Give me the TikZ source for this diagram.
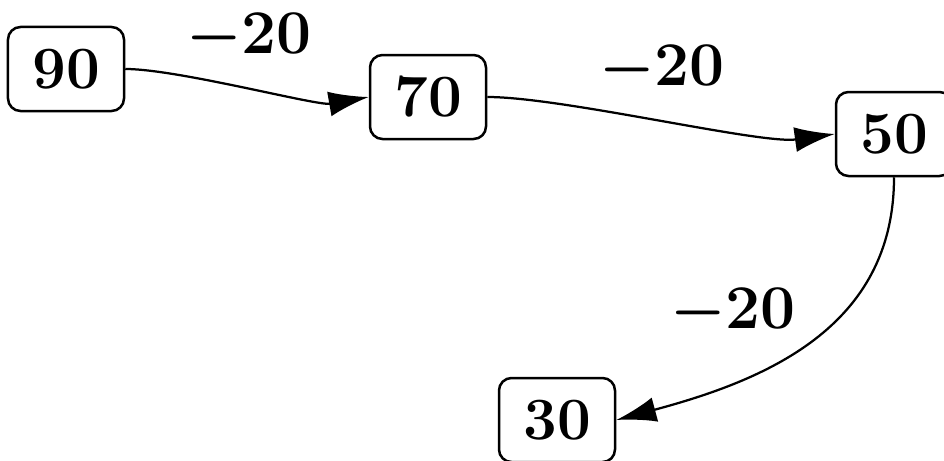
\documentclass[tikz,border=0pt]{standalone}
\usetikzlibrary{arrows.meta}
\begin{document}
\begin{tikzpicture}[x=0.4pt,y=-0.4pt,
  box/.style={draw, line width=1pt, rounded corners=5pt, minimum width=46.4pt, minimum height=33.6pt, inner sep=0pt, font=\fontsize{24}{28}\selectfont\bfseries},
  edge/.style={line width=0.9pt, -{Latex[length=16pt,width=10pt]}},
  lab/.style={font=\fontsize{24}{28}\selectfont\boldmath, inner sep=0pt}]
\useasboundingbox (0,0) rectangle (944,460);
\node[box] (n90) at (66,69) {90};
\node[box] (n70) at (428,97) {70};
\node[box] (n50) at (894,134) {50};
\node[box] (n30) at (557,420) {30};
\draw[edge] (n90.east) to[out=0,in=190,looseness=0.55] (n70.west);
\draw[edge] (n70.east) to[out=0,in=188,looseness=0.55] (n50.west);
\draw[edge] (n50.south) to[out=-90,in=15,looseness=1.05] (n30.east);
\node[lab] (l1) at (249,38) {$-20$};
\node[lab] (l2) at (662,70) {$-20$};
\node[lab] (l3) at (733,313) {$-20$};
\end{tikzpicture}
\end{document}
